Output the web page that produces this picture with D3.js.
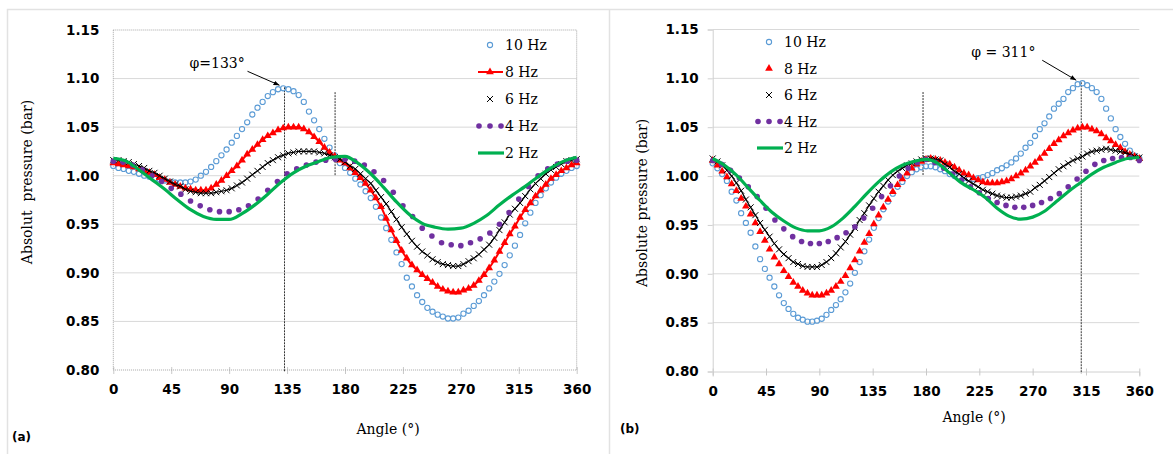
<!DOCTYPE html>
<html>
<head>
<meta charset="utf-8">
<script src="https://cdn.jsdelivr.net/npm/d3@7"></script>
<style>
    body { margin: 0; background: #fff; }
</style>
</head>
<body>
<div id="chart"></div>
<script>
// sampling of the angle axis for each kind of series
var angles4 = d3.range(0, 361, 4);
var angles75 = d3.range(0, 361, 7.5);
var angles10 = d3.range(0, 361, 10);

var xTicks = [0, 45, 90, 135, 180, 225, 270, 315, 360];
var yTicks = [0.80, 0.85, 0.90, 0.95, 1.00, 1.05, 1.10, 1.15];
var seriesNames = ["10 Hz", "8 Hz", "6 Hz", "4 Hz", "2 Hz"];

// panel (a)
var a10 = [1.010,1.008,1.007,1.005,1.004,1.002,1.000,0.999,0.997,0.996,
    0.995,0.994,0.993,0.993,0.993,0.994,0.996,1.000,1.004,1.009,
    1.015,1.021,1.027,1.034,1.041,1.048,1.055,1.063,1.070,1.076,
    1.082,1.086,1.089,1.090,1.089,1.087,1.083,1.076,1.066,1.057,
    1.048,1.038,1.029,1.021,1.013,1.008,1.003,0.997,0.991,0.984,
    0.977,0.968,0.957,0.946,0.934,0.921,0.909,0.895,0.886,0.877,
    0.870,0.864,0.860,0.857,0.855,0.853,0.853,0.854,0.858,0.861,
    0.866,0.871,0.877,0.884,0.891,0.899,0.908,0.918,0.928,0.939,
    0.951,0.962,0.972,0.980,0.987,0.993,0.998,1.002,1.005,1.008,
    1.010];
var a8 = [1.013,1.012,1.011,1.010,1.009,1.007,1.005,1.003,1.001,0.998,
    0.996,0.993,0.991,0.989,0.987,0.986,0.985,0.985,0.985,0.987,
    0.991,0.995,1.000,1.005,1.010,1.016,1.022,1.027,1.032,1.037,
    1.041,1.044,1.047,1.049,1.050,1.050,1.050,1.048,1.045,1.040,
    1.035,1.029,1.024,1.020,1.016,1.013,1.008,1.003,0.998,0.992,
    0.985,0.977,0.968,0.956,0.944,0.933,0.923,0.915,0.908,0.903,
    0.898,0.894,0.890,0.886,0.883,0.881,0.880,0.880,0.882,0.884,
    0.887,0.892,0.898,0.905,0.913,0.922,0.931,0.940,0.948,0.957,
    0.965,0.972,0.979,0.985,0.991,0.997,1.001,1.005,1.008,1.011,
    1.013];
var a6 = [1.016,1.016,1.015,1.014,1.012,1.010,1.008,1.005,1.003,1.000,
    0.997,0.994,0.991,0.989,0.986,0.984,0.983,0.982,0.982,0.982,
    0.983,0.984,0.985,0.987,0.990,0.993,0.997,1.001,1.005,1.009,
    1.013,1.016,1.019,1.021,1.023,1.024,1.025,1.025,1.025,1.025,
    1.024,1.023,1.021,1.019,1.017,1.014,1.010,1.007,1.002,0.997,
    0.992,0.985,0.978,0.971,0.963,0.955,0.947,0.940,0.933,0.927,
    0.922,0.918,0.914,0.911,0.909,0.908,0.907,0.907,0.909,0.912,
    0.915,0.919,0.924,0.929,0.936,0.944,0.952,0.960,0.966,0.972,
    0.979,0.986,0.992,0.997,1.002,1.006,1.009,1.012,1.015,1.016,
    1.017];
var a4 = [1.015,1.014,1.011,1.006,1.000,0.994,0.987,0.981,0.974,0.969,
    0.965,0.963,0.963,0.965,0.969,0.976,0.985,0.994,1.002,1.007,
    1.011,1.014,1.016,1.017,1.017,1.015,1.011,1.004,0.995,0.983,
    0.969,0.958,0.946,0.938,0.931,0.929,0.928,0.931,0.935,0.941,
    0.950,0.962,0.976,0.989,1.000,1.007,1.012,1.015,1.016];
var a2 = [1.018,1.015,1.006,0.996,0.986,0.975,0.965,0.958,0.955,0.955,
    0.961,0.970,0.981,0.993,1.003,1.010,1.015,1.019,1.020,1.013,
    1.002,0.988,0.973,0.960,0.951,0.947,0.945,0.946,0.951,0.959,
    0.970,0.980,0.989,0.999,1.008,1.015,1.019];

// panel (b)
var b10 = [1.013,1.008,1.002,0.995,0.984,0.975,0.962,0.952,0.942,0.928,
    0.915,0.905,0.896,0.887,0.878,0.870,0.864,0.859,0.855,0.853,
    0.851,0.851,0.852,0.854,0.858,0.863,0.868,0.874,0.881,0.890,
    0.901,0.912,0.923,0.935,0.947,0.957,0.966,0.974,0.982,0.989,
    0.994,1.000,1.004,1.007,1.009,1.010,1.010,1.009,1.007,1.005,
    1.002,1.000,0.999,0.998,0.997,0.997,0.998,0.999,1.001,1.003,
    1.006,1.008,1.011,1.014,1.018,1.023,1.029,1.034,1.041,1.048,
    1.054,1.061,1.069,1.074,1.079,1.086,1.090,1.094,1.095,1.093,
    1.090,1.086,1.079,1.069,1.059,1.048,1.040,1.033,1.026,1.021,
    1.018];
var b8 = [1.016,1.011,1.005,0.999,0.992,0.985,0.977,0.969,0.961,0.952,
    0.943,0.934,0.925,0.917,0.910,0.903,0.897,0.891,0.887,0.883,
    0.880,0.878,0.878,0.878,0.880,0.883,0.887,0.892,0.898,0.906,
    0.914,0.923,0.932,0.941,0.951,0.960,0.968,0.976,0.984,0.991,
    0.997,1.003,1.008,1.012,1.015,1.017,1.018,1.017,1.016,1.014,
    1.012,1.009,1.006,1.003,1.001,0.998,0.996,0.994,0.993,0.993,
    0.993,0.994,0.995,0.997,1.000,1.003,1.006,1.010,1.014,1.018,
    1.023,1.028,1.033,1.037,1.041,1.044,1.047,1.049,1.050,1.050,
    1.048,1.046,1.043,1.039,1.036,1.032,1.029,1.025,1.022,1.020,
    1.018];
var b6 = [1.018,1.015,1.011,1.006,1.000,0.993,0.985,0.976,0.968,0.960,
    0.952,0.945,0.938,0.931,0.925,0.920,0.916,0.912,0.910,0.908,
    0.907,0.907,0.907,0.909,0.912,0.916,0.921,0.927,0.933,0.940,
    0.947,0.955,0.962,0.970,0.977,0.984,0.990,0.996,1.001,1.005,
    1.008,1.011,1.013,1.015,1.017,1.018,1.018,1.017,1.016,1.012,
    1.009,1.005,1.002,0.998,0.995,0.992,0.989,0.986,0.984,0.982,
    0.980,0.979,0.978,0.978,0.979,0.980,0.982,0.984,0.988,0.991,
    0.995,0.999,1.003,1.007,1.010,1.013,1.016,1.018,1.020,1.023,
    1.025,1.026,1.027,1.028,1.027,1.026,1.025,1.024,1.022,1.020,
    1.019];
var b4 = [1.016,1.012,1.006,0.998,0.989,0.979,0.967,0.955,0.946,0.938,
    0.933,0.931,0.931,0.933,0.937,0.942,0.948,0.957,0.967,0.979,
    0.990,1.000,1.008,1.014,1.017,1.014,1.008,1.002,0.996,0.989,
    0.983,0.977,0.973,0.970,0.968,0.968,0.970,0.973,0.977,0.982,
    0.989,0.997,1.005,1.012,1.016,1.018,1.019,1.019,1.016];
var b2 = [1.018,1.011,1.001,0.988,0.975,0.963,0.954,0.947,0.944,0.944,
    0.948,0.957,0.969,0.982,0.994,1.004,1.011,1.015,1.017,1.013,
    1.003,0.993,0.986,0.978,0.967,0.959,0.956,0.958,0.964,0.974,
    0.984,0.993,1.002,1.009,1.014,1.018,1.019];

var serif = "'DejaVu Serif', serif",
    boldSans = "'DejaVu Sans', sans-serif";

var blue = "#5B9BD5", red = "#FF0000", purple = "#7030A0", green = "#00B050";
var crossPath = "M-3,-3L3,3M-3,3L3,-3";

var svg = d3.select("#chart")
    .append("svg")
    .attr("width", 1173)
    .attr("height", 454);

svg.append("defs").append("marker")
    .attr("id", "arrow")
    .attr("viewBox", "0 0 10 10")
    .attr("refX", 10).attr("refY", 5)
    .attr("markerWidth", 6).attr("markerHeight", 6)
    .attr("orient", "auto")
    .append("path")
    .attr("d", "M0,1L10,5L0,9Z")
    .attr("fill", "#000");

// outer frame of the two panels
svg.append("path")
    .attr("d", "M7.5,460V9.5H1180")
    .attr("fill", "none").attr("stroke", "#e2e2e2").attr("stroke-width", 1.5);
svg.append("line")
    .attr("x1", 609.5).attr("x2", 609.5).attr("y1", 9.5).attr("y2", 460)
    .attr("stroke", "#e2e2e2").attr("stroke-width", 1.5);

var panels = [
    {left: 113.3, right: 576.7, top: 30, bottom: 370, boxed: true,
     s10: a10, s8: a8, s6: a6, s4: a4, s2: a2,
     peak: 133, peakVal: 1.090, meet: 172.3, label: "φ=133°", labelDx: -95, labelDy: -20,
     arrowFrom: [-37, -17], legendX: 490, legendY: 45, legendStep: 27, textX: 505,
     yTitle: "Absolut  pressure (bar)", yTitleX: 27, yTitleY: 182,
     xTitleX: 388, xTitleY: 434, tag: "(a)", tagX: 12, tagY: 441},
    {left: 712.7, right: 1139.3, top: 29.5, bottom: 371.5, boxed: false,
     s10: b10, s8: b8, s6: b6, s4: b4, s2: b2,
     peak: 311, peakVal: 1.095, meet: 177.5, label: "φ = 311°", labelDx: -110, labelDy: -26,
     arrowFrom: [-39, -23], legendX: 769, legendY: 42, legendStep: 26.5, textX: 784,
     yTitle: "Absolute pressure (bar)", yTitleX: 642, yTitleY: 203,
     xTitleX: 974, xTitleY: 422, tag: "(b)", tagX: 620, tagY: 433}
];

panels.forEach(function(p) {
    var x = d3.scaleLinear().domain([0, 360]).range([p.left, p.right]);
    var y = d3.scaleLinear().domain([0.80, 1.15]).range([p.bottom, p.top]);
    var g = svg.append("g");

    // gridlines
    g.selectAll(".grid")
        .data(yTicks.filter(function(d) { return d > 0.801 && (!p.boxed || d < 1.149); }))
        .enter().append("line")
        .attr("x1", p.left).attr("x2", p.right)
        .attr("y1", function(d) { return y(d); })
        .attr("y2", function(d) { return y(d); })
        .attr("stroke", "#d9d9d9");

    // axes
    var xAxis = g.append("g")
        .attr("transform", "translate(0," + p.bottom + ")")
        .call(d3.axisBottom(x).tickValues(xTicks).tickSizeOuter(0)
            .tickSize(5).tickPadding(p.boxed ? 9 : 10));
    xAxis.selectAll(".tick line").attr("y1", -3).attr("y2", 4).attr("stroke", "#c8c8c8");
    xAxis.select(".domain").attr("stroke", p.boxed ? "none" : "#d0d0d0");

    var yAxis = g.append("g")
        .attr("transform", "translate(" + p.left + ",0)")
        .call(d3.axisLeft(y).tickValues(yTicks).tickFormat(d3.format(".2f"))
            .tickSizeOuter(0).tickSize(p.boxed ? 0 : 5).tickPadding(p.boxed ? 14 : 9));
    yAxis.selectAll(".tick line").attr("stroke", "#d0d0d0");
    yAxis.select(".domain").attr("stroke", p.boxed ? "none" : "#d0d0d0");

    g.selectAll(".tick text")
        .style("font-family", boldSans)
        .style("font-weight", "bold")
        .style("font-size", "13.5px")
        .attr("fill", "#000");

    if (p.boxed) {
        g.append("rect")
            .attr("x", p.left).attr("y", p.top)
            .attr("width", p.right - p.left).attr("height", p.bottom - p.top)
            .attr("fill", "none").attr("stroke", "#a6a6a6")
            .attr("stroke-dasharray", "1,1");
    }

    // reference lines
    g.append("line")
        .attr("x1", x(p.peak)).attr("x2", x(p.peak))
        .attr("y1", y(p.peakVal) - 1).attr("y2", p.bottom + 2)
        .attr("stroke", "#000").attr("stroke-width", 0.8)
        .attr("stroke-dasharray", "2,1");
    g.append("line")
        .attr("x1", x(p.meet)).attr("x2", x(p.meet))
        .attr("y1", y(1.086)).attr("y2", y(1.0))
        .attr("stroke", "#000").attr("stroke-width", 0.8)
        .attr("stroke-dasharray", "2,1");

    // 10 Hz
    g.selectAll(".c10")
        .data(angles4)
        .enter().append("circle")
        .attr("cx", function(d) { return x(d); })
        .attr("cy", function(d, i) { return y(p.s10[i]); })
        .attr("r", 2.6)
        .attr("fill", "none").attr("stroke", blue).attr("stroke-width", 1.1);

    // 8 Hz
    if (p.boxed) {
        g.append("path")
            .datum(angles4)
            .attr("d", d3.line()
                .x(function(d) { return x(d); })
                .y(function(d, i) { return y(p.s8[i]); })
                .curve(d3.curveMonotoneX))
            .attr("fill", "none").attr("stroke", red).attr("stroke-width", 2);
    }
    g.selectAll(".c8")
        .data(angles4)
        .enter().append("path")
        .attr("transform", function(d, i) { return "translate(" + x(d) + "," + y(p.s8[i]) + ")"; })
        .attr("d", d3.symbol(d3.symbolTriangle, 26))
        .attr("fill", red);

    // 6 Hz
    g.append("path")
        .datum(angles4)
        .attr("d", d3.line()
            .x(function(d) { return x(d); })
            .y(function(d, i) { return y(p.s6[i]); })
            .curve(d3.curveMonotoneX))
        .attr("fill", "none").attr("stroke", "#000").attr("stroke-width", 1.2);
    g.selectAll(".c6")
        .data(angles4)
        .enter().append("path")
        .attr("transform", function(d, i) { return "translate(" + x(d) + "," + y(p.s6[i]) + ")"; })
        .attr("d", crossPath)
        .attr("stroke", "#000").attr("stroke-width", 1);

    // 4 Hz
    g.selectAll(".c4")
        .data(angles75)
        .enter().append("circle")
        .attr("cx", function(d) { return x(d); })
        .attr("cy", function(d, i) { return y(p.s4[i]); })
        .attr("r", 2.8)
        .attr("fill", purple);

    // 2 Hz
    g.append("path")
        .datum(angles10)
        .attr("d", d3.line()
            .x(function(d) { return x(d); })
            .y(function(d, i) { return y(p.s2[i]); })
            .curve(d3.curveMonotoneX))
        .attr("fill", "none").attr("stroke", green).attr("stroke-width", 3.2);

    // peak annotation
    var px = x(p.peak), py = y(p.peakVal);
    g.append("line")
        .attr("x1", px + p.arrowFrom[0]).attr("y1", py + p.arrowFrom[1])
        .attr("x2", px - 5).attr("y2", py - 3)
        .attr("stroke", "#000").attr("stroke-width", 1)
        .attr("marker-end", "url(#arrow)");
    g.append("text")
        .attr("x", px + p.labelDx).attr("y", py + p.labelDy)
        .style("font-family", serif).style("font-size", "14px")
        .style("white-space", "pre")
        .text(p.label);

    // legend
    var legend = g.selectAll(".legend")
        .data(seriesNames)
        .enter().append("g")
        .attr("transform", function(d, i) {
            return "translate(" + p.legendX + "," + (p.legendY + i * p.legendStep) + ")";
        });

    legend.append("text")
        .attr("x", p.textX - p.legendX)
        .attr("y", 5)
        .style("font-family", serif).style("font-size", "14px")
        .text(function(d) { return d; });

    legend.each(function(d, i) {
        var l = d3.select(this);
        if (i === 0) {
            l.append("circle").attr("r", 2.6).attr("fill", "none")
                .attr("stroke", blue).attr("stroke-width", 1.1);
        } else if (i === 1) {
            if (p.boxed) {
                l.append("line").attr("x1", -12).attr("x2", 13)
                    .attr("stroke", red).attr("stroke-width", 2);
            }
            l.append("path").attr("d", d3.symbol(d3.symbolTriangle, 26)).attr("fill", red);
        } else if (i === 2) {
            l.append("path").attr("d", crossPath).attr("stroke", "#000").attr("stroke-width", 1);
        } else if (i === 3) {
            l.selectAll("circle").data([-11, 0, 11]).enter().append("circle")
                .attr("cx", function(c) { return c; })
                .attr("r", 2.8).attr("fill", purple);
        } else {
            l.append("line").attr("x1", -12).attr("x2", 14)
                .attr("stroke", green).attr("stroke-width", 3.2);
        }
    });

    // titles
    g.append("text")
        .attr("transform", "translate(" + p.yTitleX + "," + p.yTitleY + ") rotate(-90)")
        .attr("text-anchor", "middle")
        .attr("dy", "0.35em")
        .style("font-family", serif).style("font-size", "14px")
        .style("white-space", "pre")
        .text(p.yTitle);

    g.append("text")
        .attr("x", p.xTitleX).attr("y", p.xTitleY)
        .attr("text-anchor", "middle")
        .style("font-family", serif).style("font-size", "14px")
        .text("Angle (°)");

    g.append("text")
        .attr("x", p.tagX).attr("y", p.tagY)
        .style("font-family", boldSans).style("font-weight", "bold")
        .style("font-size", "12px")
        .text(p.tag);
});
</script>
</body>
</html>
